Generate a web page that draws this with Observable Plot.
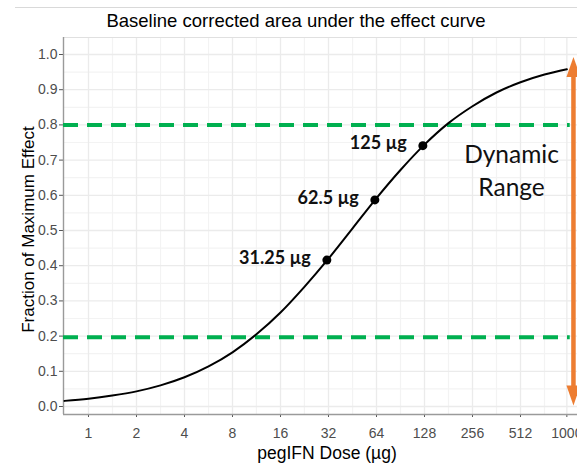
<!DOCTYPE html>
<html>
<head>
<meta charset="utf-8">
<script src="https://cdn.jsdelivr.net/npm/d3@7"></script>
<script src="https://cdn.jsdelivr.net/npm/@observablehq/plot@0.6"></script>
<style>
  html, body { margin: 0; padding: 0; overflow: hidden; background: #fff; width: 577px; height: 467px; }
  #wrap { position: relative; width: 577px; height: 467px; overflow: hidden; }
  #topline { position: absolute; left: 15px; top: 7px; width: 570px; height: 0; border-top: 1px solid #d9d9d9; }
  #title { position: absolute; left: 0; top: 11px; width: 592px; text-align: center;
           font-family: "Liberation Sans", Arial, sans-serif; font-size: 18.5px; line-height: 20px; color: #000; }
  svg { max-width: none !important; }
</style>
</head>
<body>
<div id="wrap">
  <div id="topline"></div>
  <div id="title">Baseline corrected area under the effect curve</div>
  <div id="chart"></div>
</div>
<script>
// ---- data ----
const curveDose     = [0.707, 1, 1.41, 2, 2.83, 4, 5.66, 8, 11.3, 16, 22.6, 32, 45.3, 64, 90.5, 128, 181, 256, 362, 512, 724, 1000];
const curveFraction = [0.016, 0.022, 0.031, 0.043, 0.060, 0.083, 0.114, 0.154, 0.205, 0.267, 0.340, 0.420, 0.506, 0.592, 0.672, 0.744, 0.805, 0.853, 0.892, 0.921, 0.943, 0.958];

const pointDose     = [31.25, 62.5, 125];
const pointFraction = [0.416, 0.587, 0.741];
const pointLabels   = ["31.25 µg", "62.5 µg", "125 µg"];

const thresholds    = [0.197, 0.8];
const thresholdEnd  = 1050;

const rangeX        = 1100;
const rangeLow      = 0.003;
const rangeHigh     = 0.993;
const rangeLabel    = "Dynamic\nRange";
const rangeLabelX   = 450;
const rangeLabelY   = 0.674;

const xTicks      = [1, 2, 4, 8, 16, 32, 64, 128, 256, 512, 1000];
const xTickLabels = ["1", "2", "4", "8", "16", "32", "64", "128", "256", "512", "1000"];
const xMinor      = [1.414, 2.83, 5.66, 11.3, 22.6, 45.3, 90.5, 181, 362, 724];
const yTicks      = [0, 0.1, 0.2, 0.3, 0.4, 0.5, 0.6, 0.7, 0.8, 0.9, 1.0];
const yTickLabels = ["0.0", "0.1", "0.2", "0.3", "0.4", "0.5", "0.6", "0.7", "0.8", "0.9", "1.0"];
const yMinor      = [0.05, 0.15, 0.25, 0.35, 0.45, 0.55, 0.65, 0.75, 0.85, 0.95];

const xDomain = [0.697, 1407];
const yDomain = [-0.0227, 1.0483];

const xTitle = "pegIFN Dose (µg)";
const yTitle = "Fraction of Maximum Effect";

// ---- build tables ----
const curve  = curveDose.map((d, i) => ({dose: d, frac: curveFraction[i]}));
const points = pointDose.map((d, i) => ({dose: d, frac: pointFraction[i], label: pointLabels[i]}));
const heads  = [{x: rangeX, y: rangeHigh, rot: 0}, {x: rangeX, y: rangeLow, rot: 180}];

const arrowHead = {
  draw(ctx) { ctx.moveTo(0, 0); ctx.lineTo(7, 20); ctx.lineTo(-7, 20); ctx.closePath(); }
};

const green = "#00B050";
const orange = "#ED7D31";

const chart = Plot.plot({
  width: 590,
  height: 467,
  marginLeft: 63,
  marginRight: 0,
  marginTop: 37,
  marginBottom: 53,
  style: {fontFamily: "'Liberation Sans', Arial, sans-serif", fontSize: "14px", color: "#4d4d4d", background: "transparent"},
  x: {type: "log", base: 2, domain: xDomain},
  y: {domain: yDomain},
  marks: [
    Plot.gridX(xMinor, {stroke: "#f3f3f3", strokeOpacity: 1, strokeWidth: 1.2}),
    Plot.gridY(yMinor, {stroke: "#f3f3f3", strokeOpacity: 1, strokeWidth: 1.2}),
    Plot.gridX(xTicks, {stroke: "#ebebeb", strokeOpacity: 1, strokeWidth: 1.3}),
    Plot.gridY(yTicks, {stroke: "#ebebeb", strokeOpacity: 1, strokeWidth: 1.3}),
    Plot.ruleY([yDomain[1]], {stroke: "#e0e0e0", strokeWidth: 1}),
    Plot.axisX({ticks: xTicks, tickFormat: (d) => xTickLabels[xTicks.indexOf(d)], tickSize: 3, tickPadding: 11, label: null, stroke: "#555", fontSize: 14}),
    Plot.axisY({ticks: yTicks, tickFormat: (d) => yTickLabels[yTicks.indexOf(d)], tickSize: 4, tickPadding: 2, label: null, stroke: "#555", fontSize: 14}),
    Plot.ruleY([yDomain[0]], {stroke: "#9a9a9a", strokeWidth: 1.4}),
    Plot.ruleX([xDomain[0]], {stroke: "#9a9a9a", strokeWidth: 1.4}),
    Plot.ruleY(thresholds, {x1: xDomain[0], x2: thresholdEnd, stroke: green, strokeWidth: 4, strokeDasharray: "15,9"}),
    Plot.line(curve, {x: "dose", y: "frac", curve: "monotone-x", stroke: "black", strokeWidth: 2}),
    Plot.dot(points, {x: "dose", y: "frac", r: 4.5, fill: "black", stroke: "none"}),
    Plot.text(points, {x: "dose", y: "frac", text: "label", textAnchor: "end", dx: -16, dy: -2,
      fontFamily: "Lato, 'Open Sans', sans-serif", fontWeight: "bold", fontSize: 18, fill: "#111"}),
    Plot.ruleX([rangeX], {y1: rangeLow + 0.04, y2: rangeHigh - 0.04, stroke: orange, strokeWidth: 4.5}),
    Plot.dot(heads, {x: "x", y: "y", rotate: "rot", symbol: arrowHead, fill: orange, stroke: "none", r: 5}),
    Plot.text([rangeLabel], {x: rangeLabelX, y: rangeLabelY, text: (d) => d, lineHeight: 1.35,
      fontFamily: "Lato, 'Open Sans', sans-serif", fontSize: 24.5, fill: "#111"}),
    Plot.text([yTitle], {frameAnchor: "left", text: (d) => d, textAnchor: "middle", lineAnchor: "middle", rotate: -90, dx: -35, dy: 3.5, fontSize: 17, fill: "#000"}),
    Plot.text([xTitle], {frameAnchor: "bottom", text: (d) => d, textAnchor: "middle", lineAnchor: "middle", dy: 39, fontSize: 17.5, fill: "#000"})
  ]
});
document.getElementById("chart").appendChild(chart);
</script>
</body>
</html>
